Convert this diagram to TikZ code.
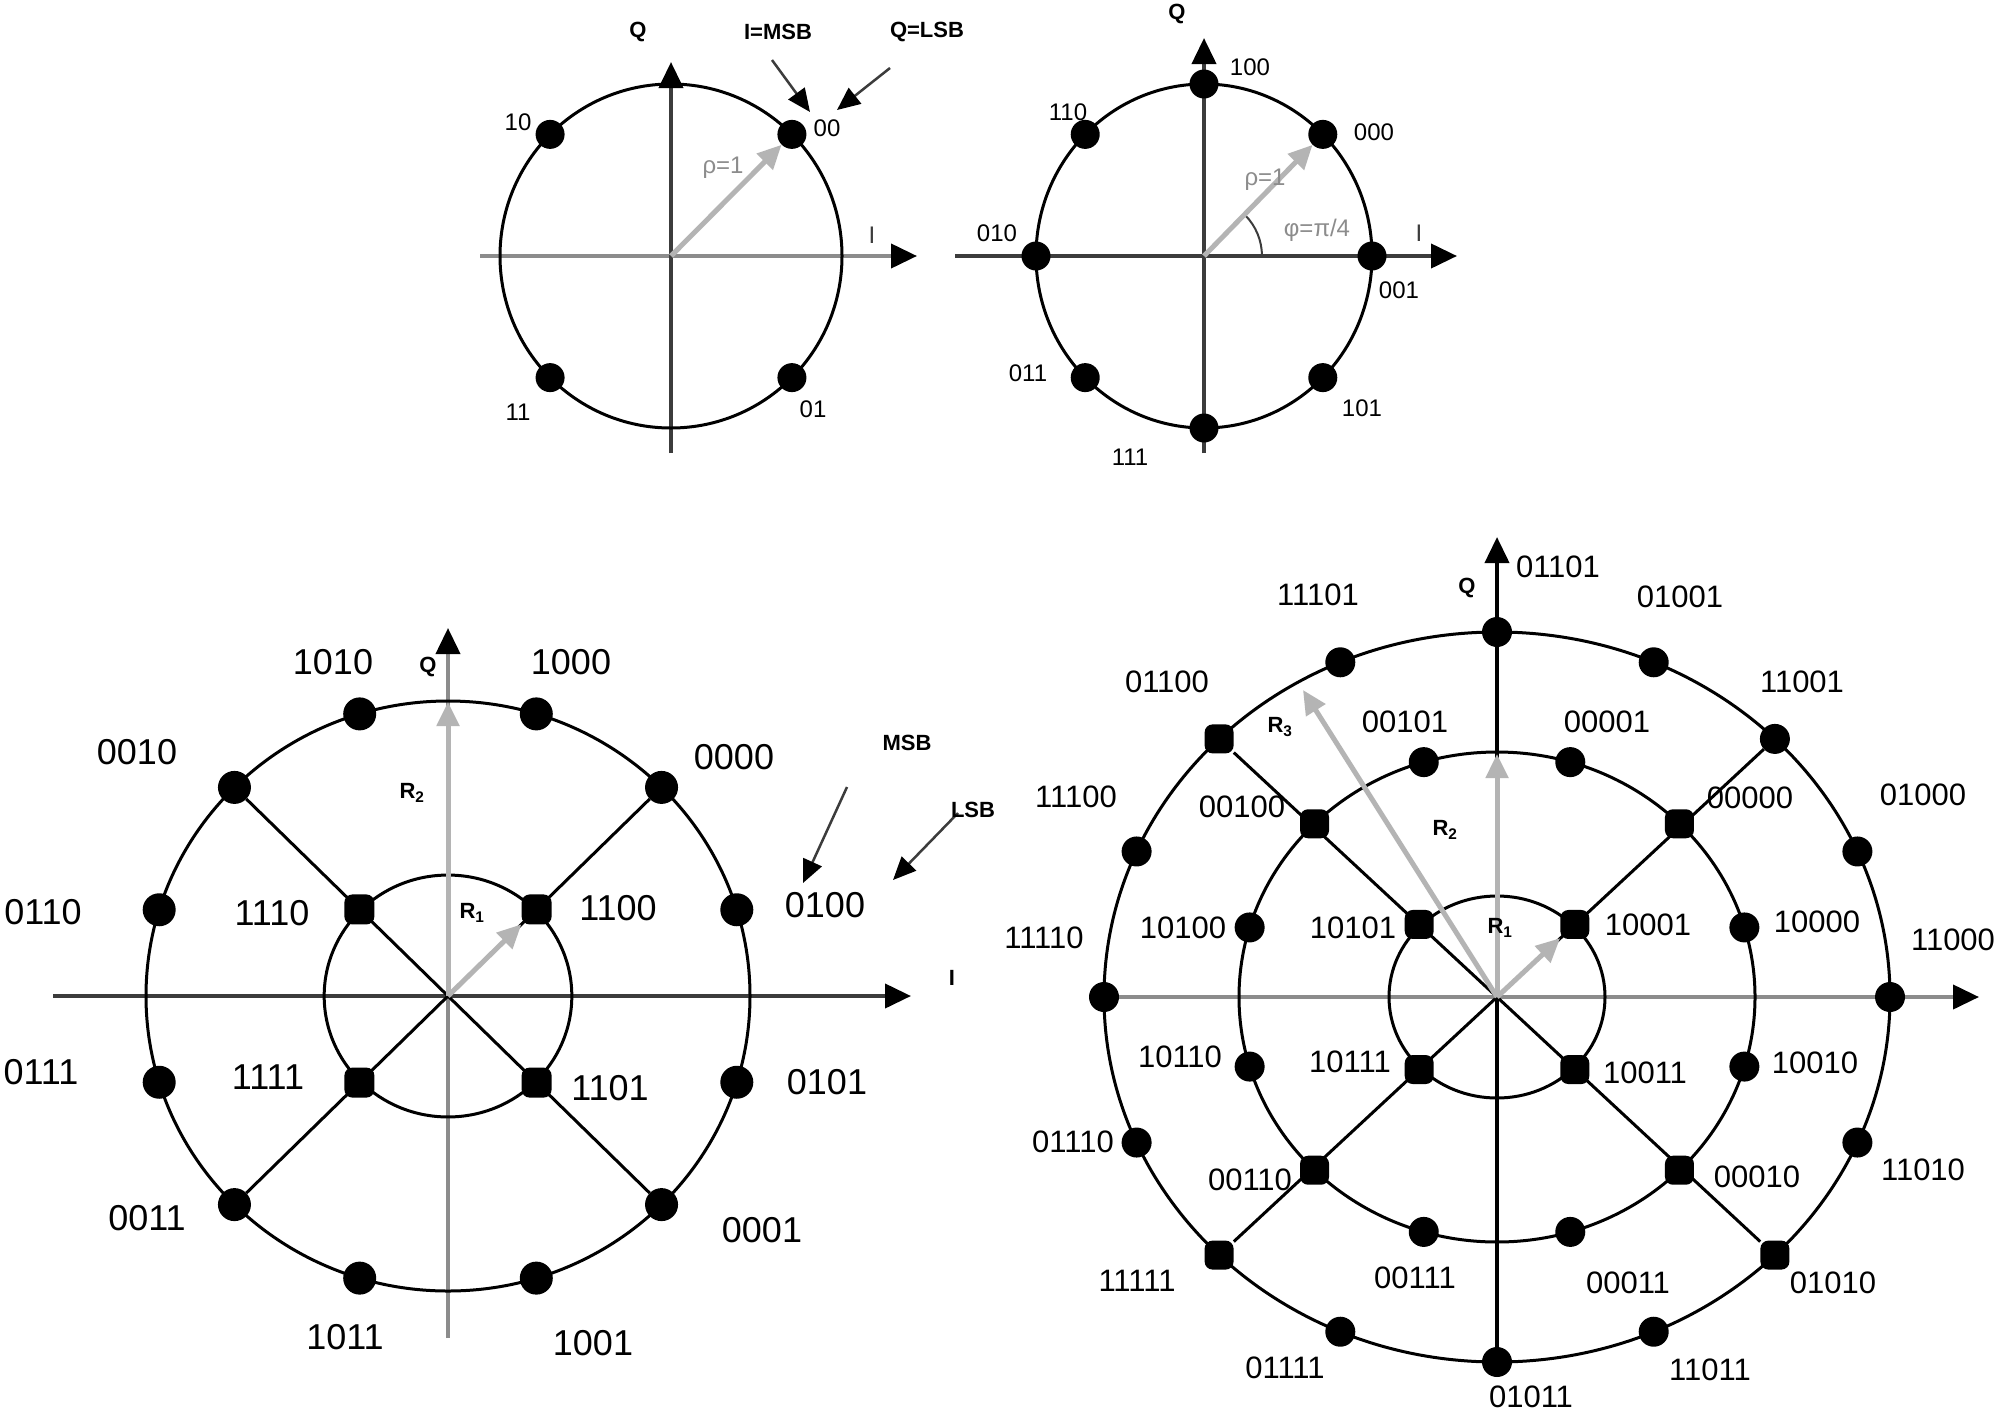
\documentclass[tikz,border=0pt]{standalone}
\usepackage{fontspec}
\setmainfont{Liberation Sans}
\usetikzlibrary{arrows.meta}
\definecolor{lgray}{HTML}{B4B4B4}
\definecolor{mgray}{HTML}{8C8C8C}
\definecolor{dgray}{HTML}{3C3C3C}
\tikzset{
  dotc/.style={circle,fill=black,inner sep=0pt,minimum size=#1},
  sqd/.style={rectangle,rounded corners=8pt,fill=black,inner sep=0pt,minimum size=#1},
  ring/.style={line width=3pt},
  axarrow/.style={line width=4pt,-{Triangle[length=26pt,width=24pt,color=black,fill=black]}},
  radarrow/.style={draw=lgray,line width=5pt,-{Triangle[length=24pt,width=22pt]}},
  annarrow/.style={draw=dgray,line width=2.5pt,-{Triangle[length=23pt,width=20pt,color=black,fill=black]}},
  lsmall/.style={font=\fontsize{24}{24}\selectfont,inner sep=0pt},
  lbig/.style={font=\fontsize{36}{36}\selectfont,inner sep=0pt},
  lmid/.style={font=\fontsize{31}{31}\selectfont,inner sep=0pt},
  lbold/.style={font=\fontsize{22}{22}\selectfont\bfseries,inner sep=0pt},
}
\begin{document}
\begin{tikzpicture}[x=1pt,y=-1pt]
\fill[white] (0,0) rectangle (2002,1411);
\useasboundingbox (0,0) rectangle (2002,1411);

% ================= A : QPSK =================
\coordinate (A-c) at (671,256);
\coordinate (A-xl) at (480,256);
\coordinate (A-xr) at (917,256);
\coordinate (A-yb) at (671,453);
\coordinate (A-yt) at (671,62);
\draw[axarrow,draw=mgray] (A-xl) -- (A-xr);
\draw[axarrow,draw=dgray] (A-yb) -- (A-yt);
\begin{scope}[shift={(A-c)},xscale=171,yscale=-172]
  \draw[ring] (0,0) circle[radius=1];
  \foreach \a/\n in {45/00,135/10,225/11,315/01}
    \node[dotc=29pt] (A-\n) at (\a:1) {};
\end{scope}
\draw[radarrow] (A-c) -- (A-00);
\coordinate (A-m1) at (772,60);
\coordinate (A-m2) at (810,112);
\coordinate (A-q1) at (890,68);
\coordinate (A-q2) at (837,110);
\draw[annarrow] (A-m1) -- (A-m2);
\draw[annarrow] (A-q1) -- (A-q2);
\node[lbold] (A-lQ) at (638,32) {Q};
\node[lbold] (A-lmsb) at (778,32) {I=MSB};
\node[lbold] (A-llsb) at (927,32) {Q=LSB};
\foreach \t/\x/\y in {10/518/122,00/827/128,11/518/412,01/813/409}
  \node[lsmall] (A-l\t) at (\x,\y) {\t};
\node[lsmall,text=dgray] (A-lI) at (872,235) {I};
\node[lsmall,text=mgray] (A-lrho) at (723,168) {ρ=1};

% ================= B : 8PSK =================
\coordinate (B-c) at (1204,256);
\coordinate (B-xl) at (955,256);
\coordinate (B-xr) at (1457,256);
\coordinate (B-yb) at (1204,453);
\coordinate (B-yt) at (1204,38);
\draw[axarrow,draw=dgray] (B-xl) -- (B-xr);
\draw[axarrow,draw=dgray] (B-yb) -- (B-yt);
\begin{scope}[shift={(B-c)},xscale=168,yscale=-172]
  \draw[ring] (0,0) circle[radius=1];
  \draw[line width=2pt,draw=dgray] (0.345,0) arc[start angle=0,end angle=45,x radius=0.345,y radius=0.337];
  \foreach \a/\n in {0/001,45/000,90/100,135/110,180/010,225/011,270/111,315/101}
    \node[dotc=29pt] (B-\n) at (\a:1) {};
\end{scope}
\draw[radarrow] (B-c) -- (B-000);
\node[lbold] (B-lQ) at (1177,14) {Q};
\foreach \t/\x/\y in {100/1250/67,110/1068/112,000/1374/132,010/997/233,001/1399/290,011/1028/373,101/1362/408,111/1130/457}
  \node[lsmall] (B-l\t) at (\x,\y) {\t};
\node[lsmall,text=dgray] (B-lI) at (1419,233) {I};
\node[lsmall,text=mgray] (B-lrho) at (1265,180) {ρ=1};
\node[lsmall,text=mgray] (B-lphi) at (1317,230) {φ=π/4};

% ================= C : 4+12 APSK =================
\coordinate (C-c) at (448,996);
\coordinate (C-xl) at (53,996);
\coordinate (C-xr) at (911,996);
\coordinate (C-yb) at (448,1338);
\coordinate (C-yt) at (448,628);
\draw[axarrow,draw=dgray] (C-xl) -- (C-xr);
\draw[axarrow,draw=mgray] (C-yb) -- (C-yt);
\begin{scope}[shift={(C-c)},xscale=302,yscale=-295]
  \draw[ring] (0,0) circle[radius=1];
  \draw[ring] (0,0) circle[radius=0.41];
  \foreach \a/\n in {17/0100,45/0000,73/1000,107/1010,135/0010,163/0110,197/0111,225/0011,253/1011,287/1001,315/0001,343/0101}
    \node[dotc=33pt] (C-\n) at (\a:1) {};
  \foreach \a/\n in {45/1100,135/1110,225/1111,315/1101}
    \node[sqd=30pt] (C-\n) at (\a:0.415) {};
\end{scope}
\draw[ring] (C-0000) -- (C-0011);
\draw[ring] (C-0010) -- (C-0001);
\coordinate (C-r2) at (448,702);
\draw[radarrow] (C-c) -- (C-r2);
\draw[radarrow] (C-c) -- (C-1100);
\coordinate (C-m1) at (847,787);
\coordinate (C-m2) at (803,883);
\coordinate (C-s1) at (958,813);
\coordinate (C-s2) at (893,880);
\draw[annarrow] (C-m1) -- (C-m2);
\draw[annarrow] (C-s1) -- (C-s2);
\foreach \t/\x/\y in {1010/333/662,1000/571/662,0010/137/752,0000/734/757,0110/43/912,1110/272/913,1100/618/908,0100/825/905,0111/41/1072,1111/268/1077,1101/610/1088,0101/827/1082,0011/147/1218,0001/762/1230,1011/345/1337,1001/593/1343}
  \node[lbig] (C-l\t) at (\x,\y) {\t};
\node[lbold] (C-lQ) at (428,667) {Q};
\node[lbold] (C-lmsb) at (907,743) {MSB};
\node[lbold] (C-llsb) at (973,810) {LSB};
\node[lbold] (C-lI) at (952,978) {I};
\node[lbold] (C-lR2) at (412,793) {R\textsubscript{2}};
\node[lbold] (C-lR1) at (472,913) {R\textsubscript{1}};

% ================= D : 4+12+16 APSK =================
\coordinate (D-c) at (1497,997);
\coordinate (D-xl) at (1106,997);
\coordinate (D-xr) at (1979,997);
\coordinate (D-yb) at (1497,1362);
\coordinate (D-yt) at (1497,537);
\draw[axarrow,draw=mgray] (D-xl) -- (D-xr);
\draw[axarrow,draw=black] (D-yb) -- (D-yt);
\begin{scope}[shift={(D-c)},xscale=393,yscale=-365]
  \draw[ring] (0,0) circle[radius=1];
  \draw[ring] (0,0) ellipse[x radius=0.6565,y radius=0.6712];
  \draw[ring] (0,0) ellipse[x radius=0.2748,y radius=0.2767];
  \foreach \a/\n in {0/11000,23.5/01000,45/11001,66.5/01001,90/01101,113.5/11101,156.5/11100,180/11110,203.5/01110,246.5/01111,270/01011,293.5/11011,336.5/11010}
    \node[dotc=30pt] (D-\n) at (\a:1) {};
  \foreach \a/\n in {135/01100,225/11111,315/01010}
    \node[sqd=29pt] (D-\n) at (\a:1) {};
  \foreach \a/\n in {16.5/10000,73.5/00001,106.5/00101,163.5/10100,196.5/10110,253.5/00111,286.5/00011,343.5/10010}
    \node[dotc=30pt] (D-\n) at (\a:0.6565 and 0.6712) {};
  \foreach \a/\n in {45/00000,135/00100,225/00110,315/00010}
    \node[sqd=29pt] (D-\n) at (\a:0.6565 and 0.6712) {};
  \foreach \a/\n in {45/10001,135/10101,225/10111,315/10011}
    \node[sqd=29pt] (D-\n) at (\a:0.28 and 0.281) {};
\end{scope}
\draw[ring] (D-11001) -- (D-11111);
\draw[ring] (D-01100) -- (D-01010);
\coordinate (D-r2) at (1497,754);
\coordinate (D-r3) at (1303,690);
\draw[radarrow] (D-c) -- (D-10001);
\draw[radarrow] (D-c) -- (D-r2);
\draw[radarrow] (D-c) -- (D-r3);
\foreach \t/\x/\y in {01101/1558/567,11101/1318/595,01001/1680/597,01100/1167/682,11001/1802/682,00101/1405/722,00001/1607/722,11100/1076/797,00100/1242/807,00000/1750/798,01000/1923/795,10100/1183/928,10101/1353/928,10001/1648/925,10000/1817/922,11110/1044/938,11000/1953/940,10110/1180/1057,10111/1350/1062,10011/1645/1073,10010/1815/1063,01110/1073/1142,00110/1250/1180,00010/1757/1177,11010/1923/1170,11111/1137/1281,00111/1415/1278,00011/1628/1283,01010/1833/1283,01111/1285/1368,11011/1710/1370,01011/1531/1397}
  \node[lmid] (D-l\t) at (\x,\y) {\t};
\node[lbold] (D-lQ) at (1467,588) {Q};
\node[lbold] (D-lR3) at (1280,727) {R\textsubscript{3}};
\node[lbold] (D-lR2) at (1445,830) {R\textsubscript{2}};
\node[lbold] (D-lR1) at (1500,928) {R\textsubscript{1}};
\end{tikzpicture}
\end{document}
